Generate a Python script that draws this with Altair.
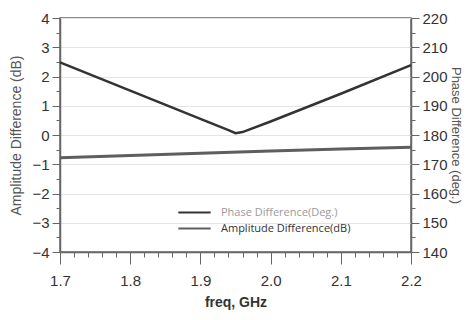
import altair as alt
import pandas as pd
import numpy as np

# data
freq_amp = [1.7, 1.8, 1.9, 2.0, 2.1, 2.2]
amp_db = [-0.78, -0.70, -0.62, -0.55, -0.48, -0.42]

freq_phase = [1.7, 1.8, 1.9, 1.94, 1.95, 1.96, 2.0, 2.1, 2.2]
phase_deg = [204.8, 195.2, 185.5, 181.7, 180.6, 181.0, 184.6, 194.1, 203.9]

series_names = ["Phase Difference(Deg.)", "Amplitude Difference(dB)"]

amp_df = pd.DataFrame({"freq": freq_amp, "val": amp_db, "series": series_names[1]})
ph_df = pd.DataFrame({"freq": freq_phase, "val": phase_deg, "series": series_names[0]})

FONT = "Liberation Sans"

x_ticks = [round(v, 2) for v in np.arange(1.7, 2.2001, 0.02)]
yl_ticks = [round(v, 1) for v in np.arange(-4, 4.001, 0.5)]
yr_ticks = list(range(140, 221, 5))

x_major = "abs(datum.value*10 - round(datum.value*10)) < 0.001"
x_enc = alt.X(
    "freq:Q",
    scale=alt.Scale(domain=[1.7, 2.2], nice=False),
    axis=alt.Axis(
        values=x_ticks,
        labelExpr=f"{x_major} ? format(datum.value, '.1f') : ''",
        tickSize={"condition": {"test": x_major, "value": 12}, "value": 5},
        grid=False,
        title="freq, GHz",
        titleFontWeight="bold",
        titleFontSize=14,
        titleColor="#333",
        titlePadding=7,
        labelPadding=9,
        labelFlush=False,
    ),
)

color_scale = alt.Scale(domain=series_names, range=["#333333", "#5e5e5e"])

amp_layer = alt.Chart(amp_df).mark_line(strokeWidth=3).encode(
    x=x_enc,
    y=alt.Y(
        "val:Q",
        scale=alt.Scale(domain=[-4, 4], nice=False),
        axis=alt.Axis(
            orient="left",
            values=yl_ticks,
            labelExpr="datum.value % 1 === 0 ? format(datum.value, 'd') : ''",
            tickSize={"condition": {"test": "datum.value % 1 === 0", "value": 8}, "value": 4},
            grid=True,
            gridColor={"condition": {"test": "datum.value % 1 === 0", "value": "#e4e4e4"}, "value": "transparent"},
            title="Amplitude Difference (dB)",
            titleFontSize=14,
            titleFontWeight="normal",
            titleColor="#555",
            titlePadding=8,
            labelPadding=3,
        ),
    ),
    color=alt.Color(
        "series:N",
        scale=color_scale,
        legend=alt.Legend(
            title=None,
            orient="none",
            legendX=124,
            legendY=184,
            padding=0,
            symbolType="M-1.7,0H1.7",
            symbolSize=361,
            symbolStrokeWidth=2,
            labelFontSize=11,
            labelFont="Open Sans",
            labelColor=alt.ExprRef(expr="datum.value === 'Phase Difference(Deg.)' ? '#9a9a9a' : '#333333'"),
            rowPadding=0,
            labelOffset=16,
        ),
    ),
)

ph_layer = alt.Chart(ph_df).mark_line(strokeWidth=2.5).encode(
    x=x_enc,
    y=alt.Y(
        "val:Q",
        scale=alt.Scale(domain=[140, 220], nice=False),
        axis=alt.Axis(
            orient="right",
            values=yr_ticks,
            labelExpr="datum.value % 10 === 0 ? format(datum.value, 'd') : ''",
            tickSize={"condition": {"test": "datum.value % 10 === 0", "value": 8}, "value": 4},
            grid=False,
            title="Phase Difference (deg.)",
            titleFontSize=13,
            titleFontWeight="normal",
            titleColor="#555",
            titlePadding=1,
            titleAngle=90,
            labelPadding=3,
        ),
    ),
    color=alt.Color("series:N", scale=color_scale),
)

chart = (
    alt.layer(amp_layer, ph_layer)
    .resolve_scale(y="independent")
    .properties(
        width=351,
        height=234,
        autosize=alt.AutoSizeParams(type="none"),
        padding={"left": 52, "top": 10, "right": 53, "bottom": 60},
        background="white",
    )
    .configure_view(stroke="#666", strokeWidth=1.5)
    .configure_axis(
        labelFont=FONT,
        titleFont=FONT,
        labelFontSize=15,
        labelColor="#333",
        domainColor="#666",
        tickColor="#666",
        domainWidth=1.5,
    )
)

chart.save("out.html", embed_options={"renderer": "svg", "actions": False})
